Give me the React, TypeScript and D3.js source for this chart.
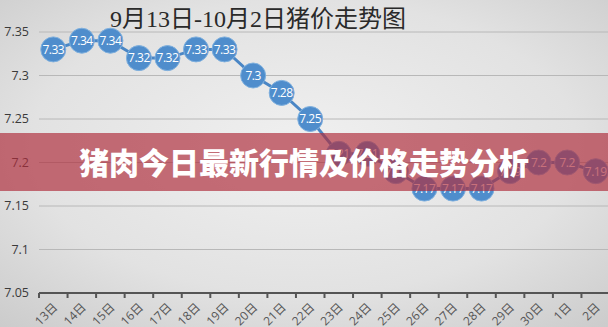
import React from "react";
import * as d3 from "d3";

const days = ["13日","14日","15日","16日","17日","18日","19日","20日","21日","22日","23日","24日","25日","26日","27日","28日","29日","30日","1日","2日"];
const prices = [7.33,7.34,7.34,7.32,7.32,7.33,7.33,7.3,7.28,7.25,7.21,7.21,7.19,7.17,7.17,7.17,7.19,7.2,7.2,7.19];
const yTicks = [7.05,7.1,7.15,7.2,7.25,7.3,7.35];
const chartTitle = "9月13日-10月2日猪价走势图";
const bannerText = "猪肉今日最新行情及价格走势分析";

const W = 608;
const H = 327;

export default function App() {
  const x = d3.scaleBand<string>().domain(days).range([39, 610]).padding(0);
  const y = d3.scaleLinear().domain([7.05, 7.35]).range([293, 32]);
  const cx = (d: string) => (x(d) as number) + x.bandwidth() / 2;
  const line = d3
    .line<number>()
    .x((_, i) => cx(days[i]))
    .y((v) => y(v));
  const boundaries = days.map((d) => x(d) as number);

  return (
    <svg
      width={W}
      height={H}
      style={{ position: "absolute", left: 0, top: 0, display: "block" }}
    >
      <defs>
        <radialGradient id="bg" cx="50%" cy="45%" r="75%">
          <stop offset="0%" stopColor="#f0f0f0" />
          <stop offset="60%" stopColor="#e2e2e2" />
          <stop offset="100%" stopColor="#cbcbcb" />
        </radialGradient>
      </defs>
      <rect x={0} y={0} width={W} height={H} fill="url(#bg)" />

      {/* gridlines */}
      {yTicks.slice(1).map((t) => (
        <line key={t} x1={39} x2={W} y1={y(t)} y2={y(t)} stroke="#b8b8b8" strokeWidth={1} />
      ))}

      {/* y tick labels */}
      {yTicks.map((t) => (
        <text
          key={t}
          x={29}
          y={y(t)}
          dy="0.35em"
          textAnchor="end"
          fontFamily="'Open Sans', 'Liberation Sans', sans-serif"
          fontSize={12.5}
          fill="#3a3a3a"
        >
          {String(t)}
        </text>
      ))}

      {/* x axis */}
      <line x1={39} x2={W} y1={y(7.05)} y2={y(7.05)} stroke="#555" strokeWidth={2} />
      {boundaries.map((b, i) => (
        <line key={i} x1={b} x2={b} y1={y(7.05)} y2={y(7.05) + 5} stroke="#555" strokeWidth={2} />
      ))}
      {days.map((d) => (
        <text
          key={d}
          transform={`translate(${cx(d) + 5},${308}) rotate(-45)`}
          textAnchor="end"
          fontFamily="'Open Sans', 'Liberation Sans', 'Noto Sans CJK SC', sans-serif"
          fontSize={12}
          fill="#555"
        >
          {d}
        </text>
      ))}

      {/* title */}
      <text
        x={258}
        y={27}
        textAnchor="middle"
        fontFamily="'Liberation Serif', 'DejaVu Serif', 'Noto Sans CJK SC', serif"
        fontSize={24}
        fill="#2a2a2a"
      >
        {chartTitle}
      </text>

      {/* price line */}
      <path d={line(prices) || ""} fill="none" stroke="#4a86c5" strokeWidth={3} />
      {prices.map((v, i) => (
        <circle key={i} cx={cx(days[i])} cy={y(v)} r={12.5} fill="#4f8dcc" stroke="#7fb0de" strokeWidth={1} />
      ))}
      {prices.map((v, i) => (
        <text
          key={i}
          x={cx(days[i])}
          y={y(v)}
          dy="0.36em"
          textAnchor="middle"
          fontFamily="'Open Sans', 'Liberation Sans', sans-serif"
          fontSize={12}
          fill="#ffffff"
          letterSpacing={-0.5}
        >
          {String(v)}
        </text>
      ))}

      {/* banner */}
      <rect x={0} y={133} width={W} height={58} fill="rgb(175,46,61)" fillOpacity={0.68} />
      <text
        x={304}
        y={163}
        dy="0.35em"
        textAnchor="middle"
        fontFamily="'Noto Sans CJK SC', sans-serif"
        fontWeight={900}
        fontSize={30}
        fill="#ffffff"
      >
        {bannerText}
      </text>
    </svg>
  );
}
